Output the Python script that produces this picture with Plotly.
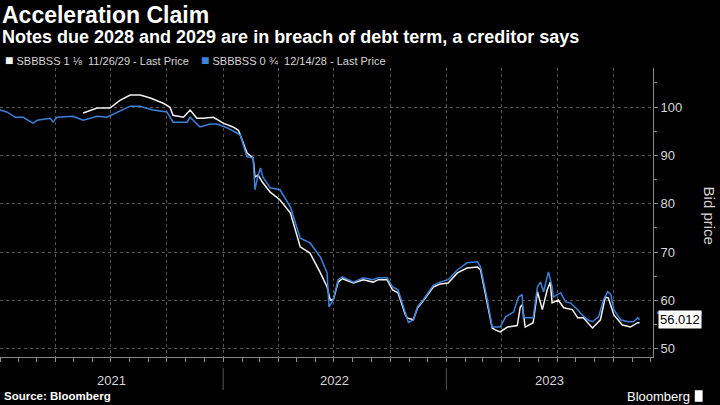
import plotly.graph_objects as go

# ---- data ----
blue_dates = ["2021-01-01","2021-01-12","2021-01-26","2021-02-08","2021-02-24","2021-03-03","2021-03-24","2021-03-29",
    "2021-04-04","2021-04-30","2021-05-17","2021-06-09","2021-06-25","2021-07-12","2021-08-02","2021-08-18",
    "2021-09-08","2021-10-01","2021-10-11","2021-11-03","2021-11-08","2021-11-24","2021-12-11","2021-12-22",
    "2022-01-08","2022-01-24","2022-01-29","2022-02-09","2022-02-19","2022-02-22","2022-02-26","2022-03-03",
    "2022-03-07","2022-03-19","2022-04-04","2022-04-21","2022-05-07","2022-05-23","2022-06-09","2022-06-20",
    "2022-06-23","2022-06-30","2022-07-08","2022-07-15","2022-08-02","2022-08-18","2022-09-03","2022-09-12",
    "2022-09-26","2022-10-05","2022-10-14","2022-10-26","2022-10-31","2022-11-08","2022-11-15","2022-11-24",
    "2022-12-11","2022-12-22","2023-01-04","2023-01-19","2023-02-04","2023-02-21","2023-02-26","2023-03-09",
    "2023-03-17","2023-03-30","2023-04-08","2023-04-21","2023-04-29","2023-05-05","2023-05-07","2023-05-23",
    "2023-05-30","2023-06-04","2023-06-09","2023-06-17","2023-06-23","2023-06-25","2023-07-07","2023-07-15",
    "2023-07-23","2023-08-04","2023-08-08","2023-08-20","2023-08-28","2023-09-07","2023-09-15","2023-09-22",
    "2023-09-27","2023-10-02","2023-10-13","2023-10-25","2023-11-03","2023-11-10","2023-11-13"]
blue_values = [99.4,99.0,97.9,97.9,96.7,97.3,97.7,96.9,
    97.9,98.1,97.3,98.1,97.9,99.0,100.2,100.2,
    99.4,99.0,96.9,96.9,97.9,95.9,96.5,96.5,
    95.7,94.6,94.2,89.7,89.5,82.9,85.3,87.4,
    85.5,83.3,82.9,79.3,72.9,71.9,69.0,65.7,
    58.7,60.1,64.3,64.9,63.8,64.7,64.3,64.7,
    64.7,62.8,62.2,57.4,55.4,56.0,58.7,60.1,
    63.2,63.8,64.3,66.3,67.8,68.0,66.9,60.1,
    54.5,54.5,56.6,57.6,60.7,61.2,56.4,56.4,
    62.8,63.8,61.8,65.9,62.8,60.7,61.6,59.7,
    59.5,58.1,57.4,56.0,55.6,56.6,60.1,61.8,
    61.2,58.1,56.0,55.6,55.6,56.4,56.0]

white_dates = ["2021-05-17","2021-06-09","2021-06-30","2021-07-16","2021-08-02","2021-08-18","2021-09-04","2021-09-25",
    "2021-10-06","2021-10-11","2021-10-28","2021-11-08","2021-11-19","2021-11-29","2021-12-16","2022-01-01",
    "2022-01-17","2022-01-26","2022-02-09","2022-02-19","2022-02-22","2022-02-27","2022-03-06","2022-03-19",
    "2022-04-04","2022-04-21","2022-05-07","2022-05-23","2022-06-09","2022-06-20","2022-06-25","2022-06-30",
    "2022-07-08","2022-07-15","2022-08-02","2022-08-18","2022-09-03","2022-09-12","2022-09-26","2022-10-05",
    "2022-10-14","2022-10-26","2022-10-29","2022-11-08","2022-11-15","2022-11-24","2022-12-11","2022-12-22",
    "2023-01-04","2023-01-19","2023-02-04","2023-02-21","2023-02-26","2023-03-09","2023-03-17","2023-03-22",
    "2023-03-30","2023-04-11","2023-04-27","2023-05-02","2023-05-05","2023-05-10","2023-05-23","2023-05-30",
    "2023-06-07","2023-06-15","2023-06-20","2023-06-23","2023-07-03","2023-07-12","2023-07-26","2023-08-04",
    "2023-08-13","2023-08-28","2023-09-10","2023-09-18","2023-09-23","2023-10-02","2023-10-16","2023-10-29",
    "2023-11-10","2023-11-13"]
white_values = [98.8,99.8,99.8,101.4,102.5,102.5,101.9,100.8,
    100.0,98.3,97.9,99.4,97.7,97.7,97.9,96.7,
    95.9,95.2,90.5,89.5,85.5,86.0,84.5,82.4,
    80.8,78.1,71.1,69.8,65.7,62.8,60.1,60.1,
    63.8,64.5,63.6,64.3,63.8,64.3,64.3,62.2,
    61.6,57.0,56.4,56.0,58.5,59.9,62.8,63.4,
    63.6,65.7,66.7,66.9,66.3,59.7,54.3,53.9,
    53.5,54.5,54.8,58.7,59.1,54.5,55.4,61.8,
    58.1,62.2,63.8,59.5,60.1,58.5,58.1,56.4,
    56.4,54.3,56.0,60.7,60.5,57.0,54.9,54.5,
    55.4,55.4]

white_name = "SBBBSS 1 ⅛  11/26/29 - Last Price"
blue_name = "SBBBSS 0 ¾  12/14/28 - Last Price"
last_price = 56.012
year_labels = ["2021", "2022", "2023"]
year_mids = ["2021-07-02", "2022-07-02", "2023-06-19"]
year_bounds = ["2022-01-01", "2023-01-01"]

WHITE = "#f2f2f2"
BLUE = "#3a82dc"
TXT = "#d6d6d6"
GRID = "#555555"
FONT = "Liberation Sans"

fig = go.Figure()
fig.add_trace(go.Scatter(x=white_dates, y=white_values, mode="lines",
                         line=dict(color=WHITE, width=1.5), name=white_name, showlegend=False))
fig.add_trace(go.Scatter(x=blue_dates, y=blue_values, mode="lines",
                         line=dict(color=BLUE, width=1.5), name=blue_name, showlegend=False))

fig.update_layout(
    width=720, height=405,
    margin=dict(l=0, r=67, t=68, b=48),
    paper_bgcolor="black", plot_bgcolor="black",
    font=dict(family=FONT, color=TXT, size=13),
    xaxis=dict(type="date", range=["2021-01-01", "2023-12-05"],
               dtick="M3", tick0="2021-01-01", showticklabels=False,
               ticks="outside", ticklen=4, tickcolor="#888",
               showgrid=True, gridcolor=GRID, griddash="dot", gridwidth=1,
               showline=True, linecolor="#888", linewidth=1, zeroline=False,
               minor=dict(dtick="M1", tick0="2021-01-01", ticks="outside", ticklen=4,
                          tickcolor="#888", showgrid=False)),
    yaxis=dict(side="right", range=[48.3, 108.1], dtick=10, tick0=0,
               ticks="outside", ticklen=4, tickcolor="#888",
               tickfont=dict(size=13, color=TXT),
               showgrid=True, gridcolor=GRID, griddash="dot", gridwidth=1,
               showline=True, linecolor="#888", linewidth=1, zeroline=False,
               minor=dict(dtick=5, ticks="outside", ticklen=3, tickcolor="#888", showgrid=False)),
)

ann = []
ann.append(dict(text="<b>Acceleration Claim</b>", x=0.0, y=1.183, xref="paper", yref="paper",
                xanchor="left", yanchor="middle", showarrow=False, font=dict(size=23, color="white", family=FONT)))
ann.append(dict(text="<b>Notes due 2028 and 2029 are in breach of debt term, a creditor says</b>",
                x=0.0, y=1.108, xref="paper", yref="paper", xanchor="left", yanchor="middle",
                showarrow=False, font=dict(size=18, color="white", family=FONT)))
ann.append(dict(text=f"<span style='color:{WHITE};font-size:14px'>■</span> {white_name}", x=0.004, y=1.028,
                xref="paper", yref="paper", xanchor="left", yanchor="middle", showarrow=False,
                font=dict(size=11, color=TXT, family=FONT)))
ann.append(dict(text=f"<span style='color:{BLUE};font-size:14px'>■</span> {blue_name}", x=0.304, y=1.028,
                xref="paper", yref="paper", xanchor="left", yanchor="middle", showarrow=False,
                font=dict(size=11, color=TXT, family=FONT)))
ann.append(dict(text="Bid price", textangle=90, x=1.087, y=0.49, xref="paper", yref="paper",
                xanchor="center", yanchor="middle", showarrow=False, font=dict(size=15, color=TXT, family=FONT)))
for lab, xm in zip(year_labels, year_mids):
    ann.append(dict(text=lab, x=xm, y=-0.083, xref="x", yref="paper", xanchor="center", yanchor="middle",
                    showarrow=False, font=dict(size=13, color=TXT, family=FONT)))
ann.append(dict(text="<b>Source: Bloomberg</b>", x=0.003, y=-0.135, xref="paper", yref="paper",
                xanchor="left", yanchor="middle", showarrow=False, font=dict(size=11.5, color="white", family=FONT)))
ann.append(dict(text="Bloomberg", x=1.06, y=-0.135, xref="paper", yref="paper",
                xanchor="right", yanchor="middle", showarrow=False, font=dict(size=13, color="white", family=FONT)))
ann.append(dict(text=f"{last_price:.3f}", x=1.007, y=last_price, xref="paper", yref="y",
                xanchor="left", yanchor="middle", showarrow=False, bgcolor="white", borderpad=1,
                font=dict(size=13, color="black", family=FONT)))
fig.update_layout(annotations=ann)

shapes = []
for b in year_bounds:
    shapes.append(dict(type="line", x0=b, x1=b, xref="x", yref="paper", y0=-0.038, y1=-0.114,
                       line=dict(color="#555", width=1)))
shapes.append(dict(type="rect", xref="paper", yref="y", x0=1.006, x1=1.075, y0=57.2, y1=57.7,
                   fillcolor=BLUE, line=dict(width=0)))
shapes.append(dict(type="rect", xref="paper", yref="paper", x0=1.064, x1=1.076, y0=-0.155, y1=-0.115,
                   fillcolor="white", line=dict(width=0)))
fig.update_layout(shapes=shapes)

fig.write_html("out.html")
